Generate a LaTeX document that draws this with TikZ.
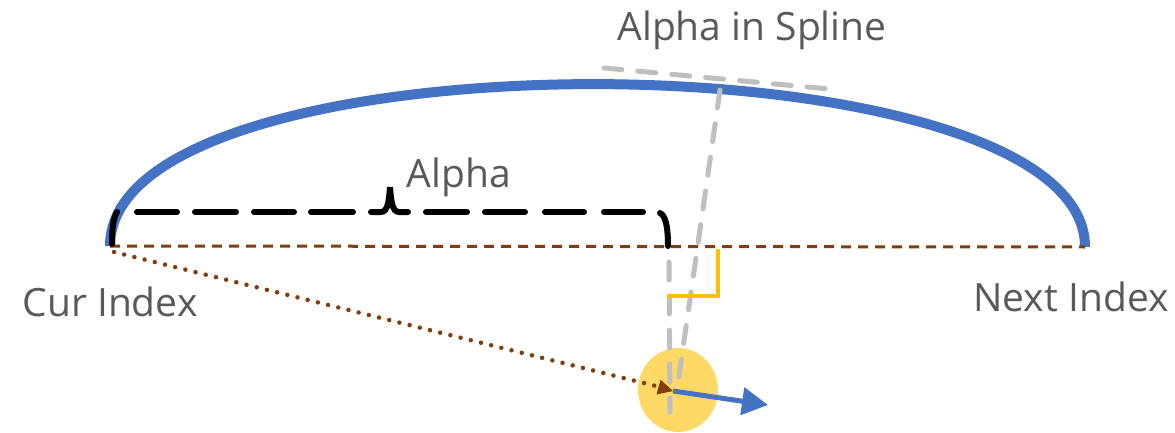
\documentclass[tikz,border=0pt]{standalone}
\usepackage{fontspec}
\setmainfont{Open Sans}
\usetikzlibrary{arrows.meta,shapes.geometric}
\definecolor{arcblue}{HTML}{4472C4}
\definecolor{brown}{HTML}{843C0C}
\definecolor{ltgray}{HTML}{BFBFBF}
\definecolor{gold}{HTML}{FFC000}
\definecolor{sun}{HTML}{FFD966}
\definecolor{txt}{HTML}{595959}
\tikzset{
  lbl/.style={font=\fontsize{39}{42}\selectfont, text=txt, inner sep=0pt},
  guide/.style={ltgray, line width=5pt, dash pattern=on 18pt off 16pt, line cap=round},
  brace/.style={black, line width=6pt, line cap=round},
}
\begin{document}
\begin{tikzpicture}[x=1pt,y=-1pt]
\useasboundingbox (0,0) rectangle (1175,433);
\coordinate (cur) at (110,246);
\coordinate (next) at (1085,247);
\coordinate (obj) at (673,391);
% object
\node[ellipse, fill=sun, minimum width=80pt, minimum height=84pt, inner sep=0pt] (dot) at (678,390) {};
% spline arc
\draw[arcblue, line width=10pt] (cur) .. controls (110,28) and (1085,32) .. (next);
% brown dashed chord
\draw[brown, line width=3pt, dash pattern=on 10pt off 7pt] (cur) -- (next);
% guides
\coordinate (tA) at (604,68);
\coordinate (tB) at (840,90);
\draw[guide] (tA) -- (tB);
\coordinate (sA) at (720,90);
\coordinate (sB) at (677,390);
\draw[guide] (sA) -- (sB);
\coordinate (vA) at (669,262);
\coordinate (vB) at (670,412);
\draw[guide] (vA) -- (vB);
% brace
\draw[brace] (112,244) .. controls (112,230) and (113,218) .. (117,212);
\draw[brace] (137,212) -- (177,212);
\draw[brace] (195,212) -- (236,212);
\draw[brace] (254,212) -- (294,212);
\draw[brace] (311,212) -- (353,212);
\draw[brace] (371,212) -- (381,212) .. controls (388,212) and (389,200) .. (390,187)
  .. controls (391,200) and (392,212) .. (399,212) -- (408,212);
\draw[brace] (426,212) -- (467,212);
\draw[brace] (485,212) -- (525,212);
\draw[brace] (545,212) -- (584,212);
\draw[brace] (604,212) -- (643,212);
\draw[brace] (660,213) .. controls (666,216) and (668,228) .. (668,246);
% right angle marker
\draw[gold, line width=4pt] (668,296) -- (718,296) -- (718,249);
\draw[brown, line width=4.5pt, line cap=round, dash pattern=on 0pt off 10.5pt] (114,252) -- (660,387);
\draw[brown, line width=1pt, -{Triangle[length=15pt,width=15pt]}] (662,388) -- (obj);
\draw[arcblue, line width=5pt, -{Triangle[length=26pt,width=27pt]}] (obj) -- (768,405);
% labels
\node[lbl] (alpha) at (459,177) {Alpha};
\node[lbl] (ais) at (752,30) {Alpha in Spline};
\node[lbl] (curl) at (110,302) {Cur Index};
\node[lbl] (nextl) at (1071,297) {Next Index};
\end{tikzpicture}
\end{document}
